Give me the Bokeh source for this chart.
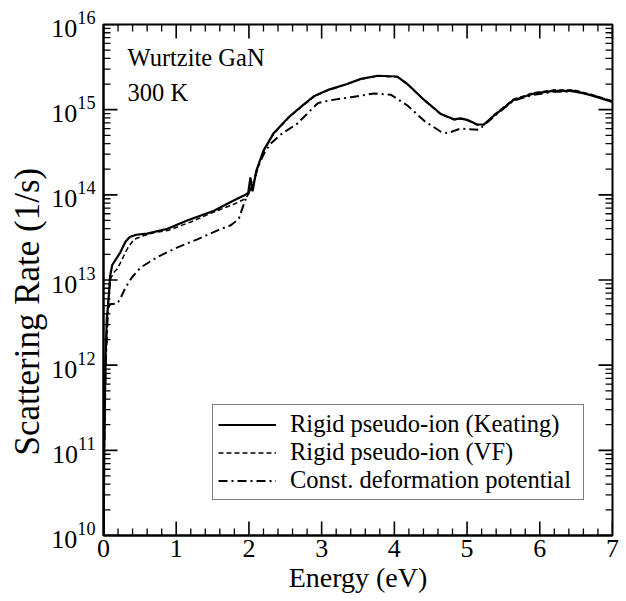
import math
from bokeh.plotting import figure
from bokeh.models import (Range1d, FixedTicker, Legend, LegendItem, Label, Title)
from bokeh.embed import file_html
from bokeh.resources import INLINE

# ---- data ----
energy_keating = [0.003, 0.01, 0.025, 0.045, 0.07, 0.09, 0.12, 0.17, 0.23, 0.3, 0.36, 0.45, 0.6,
                  0.88, 1.15, 1.52, 1.77, 1.93, 1.99, 2.02, 2.05, 2.1, 2.2, 2.34, 2.55, 2.71, 2.9,
                  3.1, 3.35, 3.54, 3.77, 4.04, 4.18, 4.41, 4.64, 4.82, 4.91, 5.0, 5.14, 5.23, 5.37,
                  5.64, 5.92, 6.19, 6.47, 6.7, 7.0]
rate_keating = [1e10, 1e11, 1e12, 3.5e12, 6e12, 1.1e13, 1.5e13, 1.75e13, 2.1e13, 2.8e13, 3.2e13,
                3.4e13, 3.5e13, 4e13, 5e13, 6.5e13, 8.4e13, 9.8e13, 1.05e14, 1.6e14, 1.1e14, 1.9e14,
                3.3e14, 5.3e14, 8.2e14, 1.07e15, 1.45e15, 1.72e15, 2.0e15, 2.3e15, 2.5e15, 2.45e15,
                2.0e15, 1.3e15, 8.9e14, 7.7e14, 7.9e14, 7.6e14, 6.7e14, 6.7e14, 8.5e14, 1.3e15,
                1.55e15, 1.66e15, 1.66e15, 1.48e15, 1.23e15]

energy_vf = [0.004, 0.012, 0.03, 0.06, 0.1, 0.15, 0.19, 0.25, 0.3, 0.35, 0.42, 0.55, 0.7, 0.9,
             1.2, 1.5, 1.8, 1.95, 2.05, 2.1, 2.2, 2.34, 2.55, 2.71, 2.9, 3.1, 3.35, 3.54, 3.77,
             4.04, 4.18, 4.41, 4.64, 4.82, 4.91, 5.0, 5.14, 5.23, 5.37, 5.64, 5.92, 6.19, 6.47,
             6.7, 7.0]
rate_vf = [1e10, 1e11, 1e12, 5e12, 1.05e13, 1.25e13, 1.35e13, 1.7e13, 2.1e13, 2.5e13, 3e13,
           3.3e13, 3.6e13, 3.85e13, 4.8e13, 6.2e13, 7.8e13, 9e13, 1.2e14, 1.8e14, 3.25e14, 5.2e14,
           8.1e14, 1.06e15, 1.43e15, 1.7e15, 2.0e15, 2.28e15, 2.48e15, 2.42e15, 1.98e15, 1.29e15,
           8.8e14, 7.6e14, 7.8e14, 7.5e14, 6.6e14, 6.6e14, 8.7e14, 1.33e15, 1.58e15, 1.7e15,
           1.7e15, 1.52e15, 1.26e15]

energy_const = [0.003, 0.01, 0.03, 0.06, 0.08, 0.19, 0.23, 0.3, 0.39, 0.51, 0.74, 1.01, 1.29,
                1.56, 1.75, 1.86, 1.93, 1.98, 2.05, 2.1, 2.15, 2.22, 2.3, 2.45, 2.66, 2.95, 3.12,
                3.4, 3.72, 3.95, 4.18, 4.41, 4.64, 4.73, 4.91, 5.16, 5.22, 5.37, 5.64, 5.92, 6.19,
                6.47, 6.7, 7.0]
rate_const = [1e10, 1e11, 1e12, 4e12, 5.2e12, 5.3e12, 6e12, 8.1e12, 1.07e13, 1.4e13, 1.86e13,
              2.4e13, 3e13, 3.8e13, 4.4e13, 5.2e13, 7.8e13, 1e14, 1.3e14, 1.8e14, 2.4e14, 3.2e14,
              4e14, 5.2e14, 6.8e14, 1.2e15, 1.29e15, 1.4e15, 1.55e15, 1.5e15, 1.12e15, 7.4e14,
              5.5e14, 5.3e14, 6e14, 5.8e14, 6.4e14, 8.3e14, 1.28e15, 1.5e15, 1.62e15, 1.63e15,
              1.5e15, 1.25e15]

x_ticks = [0, 1, 2, 3, 4, 5, 6, 7]
y_ticks = [1e10, 1e11, 1e12, 1e13, 1e14, 1e15, 1e16]
series_labels = ["Rigid pseudo-ion (Keating)", "Rigid pseudo-ion (VF)", "Const. deformation potential"]

FONT = "Liberation Serif"

x_minor = [round(i * 0.2, 2) for i in range(36) if i % 5 != 0]
y_minor = [k * 10.0 ** n for n in range(10, 16) for k in range(2, 10)]

x_lo, x_hi = x_ticks[0], x_ticks[-1]
y_lo, y_hi = y_ticks[0], y_ticks[-1]

# frame geometry (pixels) used to turn tick lengths into data units
FRAME_W, FRAME_H = 509, 511
px_x = (x_hi - x_lo) / FRAME_W
px_y = (math.log10(y_hi) - math.log10(y_lo)) / FRAME_H
MAJ, MIN = 14, 7

p = figure(width=626, height=601, output_backend="svg", toolbar_location=None,
           x_range=Range1d(x_lo, x_hi), y_range=Range1d(y_lo, y_hi), y_axis_type="log",
           min_border_left=103, min_border_right=14, min_border_top=24, min_border_bottom=66)
p.grid.visible = False
p.outline_line_color = "black"
p.outline_line_width = 2

for ax, tk in ((p.xaxis[0], x_ticks), (p.yaxis[0], y_ticks)):
    ax.ticker = FixedTicker(ticks=tk, minor_ticks=[])
    ax.axis_line_color = "black"
    ax.axis_line_width = 2
    ax.major_tick_in = 0
    ax.major_tick_out = 0
    ax.minor_tick_in = 0
    ax.minor_tick_out = 0
    ax.major_label_text_font = FONT
    ax.major_label_text_color = "black"
    ax.major_label_text_font_size = "26px"
    ax.axis_label_text_font = FONT
    ax.axis_label_text_font_style = "normal"
    ax.axis_label_text_color = "black"

xa = p.xaxis[0]
xa.major_label_standoff = 4
xa.axis_label = "Energy (eV)"
xa.axis_label_text_font_size = "28px"
xa.axis_label_standoff = 2
p.yaxis[0].major_label_standoff = 8

p.add_layout(Title(text="Scattering Rate (1/s)", align="left", offset=80,
                   text_font=FONT, text_font_size="35px", text_font_style="normal",
                   text_color="black", standoff=4), "left")

r1 = p.line(energy_keating, rate_keating, line_color="black", line_width=2.2)
r2 = p.line(energy_vf, rate_vf, line_color="black", line_width=1.5, line_dash="5 3")
r3 = p.line(energy_const, rate_const, line_color="black", line_width=2, line_dash="9 4 2 4")


# inward tick marks: one broken polyline per edge and tick size (NaN separates the marks)
def edge_ticks(vals, length, side):
    xs, ys = [], []
    fy = 10 ** (length * px_y)
    dx = length * px_x
    for v in vals:
        if side == "bottom":
            xs += [v, v, float("nan")]
            ys += [y_lo, y_lo * fy, float("nan")]
        elif side == "top":
            xs += [v, v, float("nan")]
            ys += [y_hi, y_hi / fy, float("nan")]
        elif side == "left":
            xs += [x_lo, x_lo + dx, float("nan")]
            ys += [v, v, float("nan")]
        else:
            xs += [x_hi, x_hi - dx, float("nan")]
            ys += [v, v, float("nan")]
    return xs, ys


for side in ("bottom", "top"):
    for vals, ln, lw in ((x_ticks, MAJ, 1.6), (x_minor, MIN, 1.3)):
        tx, ty = edge_ticks(vals, ln, side)
        p.line(tx, ty, line_color="black", line_width=lw)
for side in ("left", "right"):
    for vals, ln, lw in ((y_ticks, MAJ, 1.6), (y_minor, MIN, 1.3)):
        tx, ty = edge_ticks(vals, ln, side)
        p.line(tx, ty, line_color="black", line_width=lw)

legend = Legend(items=[LegendItem(label=series_labels[0], renderers=[r1]),
                       LegendItem(label=series_labels[1], renderers=[r2]),
                       LegendItem(label=series_labels[2], renderers=[r3])],
                location=(109, 35), orientation="vertical")
legend.label_text_font = FONT
legend.label_text_font_size = "24.5px"
legend.label_text_color = "black"
legend.glyph_width = 58
legend.glyph_height = 27
legend.label_height = 27
legend.label_width = 288
legend.label_standoff = 14
legend.padding = 5
legend.spacing = 0
legend.margin = 0
legend.border_line_color = "black"
legend.border_line_width = 1.5
legend.background_fill_color = "white"
legend.background_fill_alpha = 1
p.add_layout(legend, "center")

p.add_layout(Label(x=24, y=478, x_units="screen", y_units="screen", text="Wurtzite GaN",
                   text_font=FONT, text_font_size="24.5px", text_baseline="middle", text_color="black"))
p.add_layout(Label(x=24, y=443, x_units="screen", y_units="screen", text="300 K",
                   text_font=FONT, text_font_size="24.5px", text_baseline="middle", text_color="black"))

open("out.html", "w").write(file_html(p, INLINE))
